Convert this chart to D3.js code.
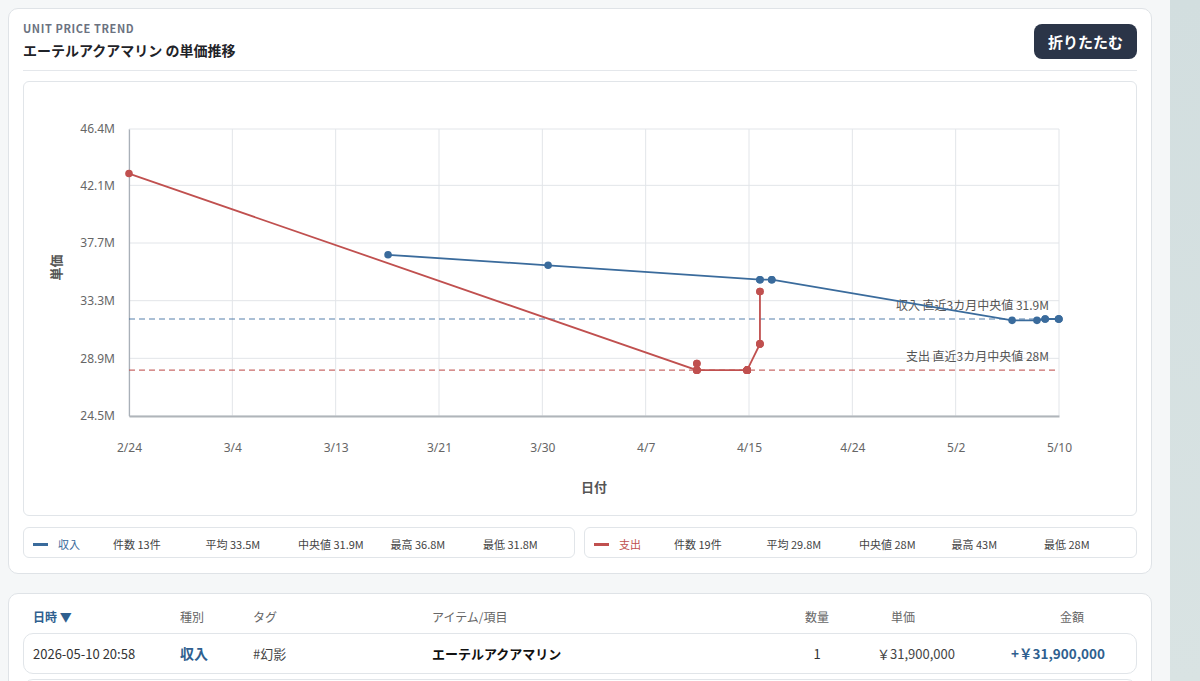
<!DOCTYPE html>
<html>
<head>
<meta charset="utf-8">
<script src="https://cdn.jsdelivr.net/npm/d3@7"></script>
<style>
  body { margin: 0; width: 1200px; height: 681px; overflow: hidden; background: #f5f7f8;
         font-family: "Noto Sans CJK JP", "Noto Sans", sans-serif; position: relative; }
  .abs { position: absolute; }
  .strip { left: 1170px; top: 0; width: 30px; height: 681px; background: linear-gradient(#d2dedf, #d9e3e3); }
  .card { background: #fff; border: 1px solid #dfe3e7; border-radius: 10px; box-sizing: border-box; }
  .eyebrow { left: 23px; top: 20px; font-size: 11px; font-weight: 700; letter-spacing: 0.6px; color: #6b7280; }
  .title { left: 23px; top: 40px; font-size: 14px; font-weight: 700; color: #1f2328; }
  .btn { left: 1034px; top: 24px; width: 103px; height: 35px; border-radius: 8px; background: #2b3548;
         color: #fff; font-size: 15px; font-weight: 700; text-align: center; line-height: 35px; }
  .sep { left: 23px; top: 70px; width: 1114px; height: 1px; background: #e4e7eb; }
  .box { border: 1px solid #e1e5e9; border-radius: 6px; box-sizing: border-box; background: #fff; }
  .leg span { position: absolute; top: 8px; font-size: 11px; color: #444; white-space: nowrap; }
  .leg i { position: absolute; left: 9px; top: 15px; width: 15px; height: 3px; }
  .th { top: 608px; font-size: 12px; color: #666; white-space: nowrap; }
  .td { top: 644px; font-size: 13px; color: #333; white-space: nowrap; }
</style>
</head>
<body>
<div class="abs strip"></div>
<div class="abs card" style="left:8px;top:8px;width:1144px;height:566px;"></div>
<div class="abs eyebrow">UNIT PRICE TREND</div>
<div class="abs title">エーテルアクアマリン の単価推移</div>
<div class="abs btn">折りたたむ</div>
<div class="abs sep"></div>
<div class="abs box" style="left:23px;top:81px;width:1114px;height:435px;"></div>
<svg id="chart" class="abs" style="left:23px;top:81px;" width="1114" height="435"></svg>
<div id="legends"></div>

<div class="abs card" style="left:8px;top:593px;width:1144px;height:120px;"></div>
<div class="abs th" style="left:33px;color:#2f5f8f;font-weight:700;">日時 ▼</div>
<div class="abs th" style="left:180px;">種別</div>
<div class="abs th" style="left:253px;">タグ</div>
<div class="abs th" style="left:432px;">アイテム/項目</div>
<div class="abs th" style="left:796px;width:42px;text-align:center;">数量</div>
<div class="abs th" style="left:880px;width:46px;text-align:center;">単価</div>
<div class="abs th" style="left:1049px;width:46px;text-align:center;">金額</div>
<div class="abs box" style="left:23px;top:633px;width:1114px;height:41px;border-radius:10px;"></div>
<div class="abs box" style="left:23px;top:679px;width:1114px;height:41px;border-radius:10px;"></div>
<div class="abs td" style="left:33px;">2026-05-10 20:58</div>
<div class="abs td" style="left:180px;top:643px;font-size:14px;font-weight:700;color:#2f5f8f;">収入</div>
<div class="abs td" style="left:253px;color:#444;">#幻影</div>
<div class="abs td" style="left:432px;font-weight:700;color:#111;">エーテルアクアマリン</div>
<div class="abs td" style="left:796px;width:42px;text-align:center;">1</div>
<div class="abs td" style="left:866px;width:100px;text-align:center;color:#444;">￥31,900,000</div>
<div class="abs td" style="left:1011px;top:643px;font-size:13.5px;font-weight:700;color:#2f5f8f;">+￥31,900,000</div>

<script>
// 収入 (income)
var incomeDates = ["2026-03-17T09:00", "2026-03-30T09:00", "2026-04-16T14:00", "2026-04-16T14:00",
  "2026-04-17T13:00", "2026-04-17T13:00", "2026-05-07T01:30", "2026-05-09T02:00",
  "2026-05-09T18:00", "2026-05-09T18:00", "2026-05-10T20:00", "2026-05-10T20:30", "2026-05-10T20:58"];
var incomeValues = [36.8, 36.0, 34.9, 34.9, 34.9, 34.9, 31.8, 31.8, 31.9, 31.9, 31.9, 31.9, 31.9];

// 支出 (expense)
var expenseDates = ["2026-02-24T08:00",
  "2026-04-11T11:00", "2026-04-11T11:00", "2026-04-11T11:00", "2026-04-11T11:00", "2026-04-11T11:00", "2026-04-11T11:00",
  "2026-04-15T13:00", "2026-04-15T13:00", "2026-04-15T13:00", "2026-04-15T13:00", "2026-04-15T13:00", "2026-04-15T13:00", "2026-04-15T13:00",
  "2026-04-16T14:00", "2026-04-16T14:00", "2026-04-16T14:00", "2026-04-16T14:00", "2026-04-16T14:00"];
var expenseValues = [43.0, 28.0, 28.5, 28.5, 28.0, 28.0, 28.0, 28.0, 28.0, 28.0, 28.0, 28.0, 28.0, 28.0,
  30.0, 30.0, 30.0, 34.0, 34.0];

var xTickLabels = ["2/24", "3/4", "3/13", "3/21", "3/30", "4/7", "4/15", "4/24", "5/2", "5/10"];
var yTicks = [24.5, 28.9, 33.3, 37.7, 42.1, 46.4];

var blue = "#3a6b9c", red = "#c0504f";

function fmt(v) { return (+v.toFixed(1)) + "M"; }

var w = 1114, h = 435;
var margin = {left: 106, top: 48, right: 78, bottom: 100};
var svg = d3.select("#chart");

var series = [
  {name: "収入", color: blue, pts: incomeDates.map(function (d, i) { return {t: new Date(d), v: incomeValues[i]}; })},
  {name: "支出", color: red, pts: expenseDates.map(function (d, i) { return {t: new Date(d), v: expenseValues[i]}; })}
];

var allDates = incomeDates.concat(expenseDates).map(function (d) { return new Date(d); });
var xscale = d3.scaleTime()
  .domain(d3.extent(allDates))
  .range([margin.left, w - margin.right]);
var yscale = d3.scaleLinear()
  .domain([yTicks[0], yTicks[yTicks.length - 1]])
  .range([h - margin.bottom, margin.top]);

var d0 = xscale.domain()[0].getTime(), d1 = xscale.domain()[1].getTime();
var xTickDates = xTickLabels.map(function (l, i) { return new Date(d0 + (d1 - d0) * i / (xTickLabels.length - 1)); });

// grid
svg.append("g").selectAll("line").data(xTickDates).enter().append("line")
  .attr("x1", function (d) { return xscale(d); }).attr("x2", function (d) { return xscale(d); })
  .attr("y1", margin.top).attr("y2", h - margin.bottom)
  .attr("stroke", "#e2e5e9");
svg.append("g").selectAll("line").data(yTicks).enter().append("line")
  .attr("x1", margin.left).attr("x2", w - margin.right)
  .attr("y1", function (d) { return yscale(d); }).attr("y2", function (d) { return yscale(d); })
  .attr("stroke", "#e2e5e9");

// axes
var yaxis = d3.axisLeft(yscale).tickValues(yTicks).tickSize(0).tickPadding(14).tickFormat(fmt);
var gy = svg.append("g").attr("transform", "translate(" + margin.left + ",0)").call(yaxis);
gy.select(".domain").attr("stroke", "#a9b0b8").attr("stroke-width", 1.2);
gy.selectAll("text").style("font-size", "12px").style("fill", "#666")
  .style("font-family", "'Noto Sans', sans-serif");

var xaxis = d3.axisBottom(xscale).tickValues(xTickDates).tickSize(0).tickPadding(27)
  .tickFormat(function (d, i) { return xTickLabels[i]; });
var gx = svg.append("g").attr("transform", "translate(0," + (h - margin.bottom) + ")").call(xaxis);
gx.select(".domain").attr("stroke", "#b0b5ba").attr("stroke-width", 2);
gx.selectAll("text").style("font-size", "12px").style("fill", "#666")
  .style("font-family", "'Noto Sans', sans-serif");

svg.append("text").attr("x", (margin.left + w - margin.right) / 2).attr("y", h - 24)
  .attr("text-anchor", "middle").style("font-size", "13px").style("font-weight", 700).style("fill", "#555")
  .text("日付");
svg.append("text").attr("transform", "translate(38," + ((margin.top + h - margin.bottom) / 2 - 5) + ") rotate(-90)")
  .attr("text-anchor", "middle").style("font-size", "13px").style("font-weight", 700).style("fill", "#555")
  .text("単価");

// median reference lines
series.forEach(function (s, i) {
  var med = d3.median(s.pts, function (p) { return p.v; });
  svg.append("line")
    .attr("x1", margin.left).attr("x2", w - margin.right)
    .attr("y1", yscale(med)).attr("y2", yscale(med))
    .attr("stroke", s.color).attr("stroke-opacity", 0.85).attr("stroke-width", 1.2)
    .attr("stroke-dasharray", "6,4");
  svg.append("text").attr("x", w - margin.right - 10).attr("y", yscale(med) - 9)
    .attr("text-anchor", "end").style("font-size", "12px").style("fill", "#555")
    .text(s.name + " 直近3カ月中央値 " + fmt(med));
});

// lines + points
var line = d3.line().x(function (p) { return xscale(p.t); }).y(function (p) { return yscale(p.v); });
series.forEach(function (s) {
  svg.append("path").datum(s.pts).attr("d", line)
    .attr("fill", "none").attr("stroke", s.color).attr("stroke-width", 1.8);
  svg.append("g").selectAll("circle").data(s.pts).enter().append("circle")
    .attr("cx", function (p) { return xscale(p.t); })
    .attr("cy", function (p) { return yscale(p.v); })
    .attr("r", 3.8).attr("fill", s.color);
});

// legend boxes with stats
var legendBoxes = [{left: 23, width: 552}, {left: 584, width: 553}];
series.forEach(function (s, i) {
  var vals = s.pts.map(function (p) { return p.v; });
  var b = d3.select("#legends").append("div").attr("class", "abs box leg")
    .style("left", legendBoxes[i].left + "px").style("top", "527px")
    .style("width", legendBoxes[i].width + "px").style("height", "31px");
  b.append("i").style("background", s.color);
  b.append("span").style("left", "34px").style("color", s.color).text(s.name);
  var stats = ["件数 " + vals.length + "件", "平均 " + fmt(d3.mean(vals)), "中央値 " + fmt(d3.median(vals)),
    "最高 " + fmt(d3.max(vals)), "最低 " + fmt(d3.min(vals))];
  stats.forEach(function (t, j) {
    b.append("span").style("left", (89 + j * 92.5) + "px").text(t);
  });
});
</script>
</body>
</html>
